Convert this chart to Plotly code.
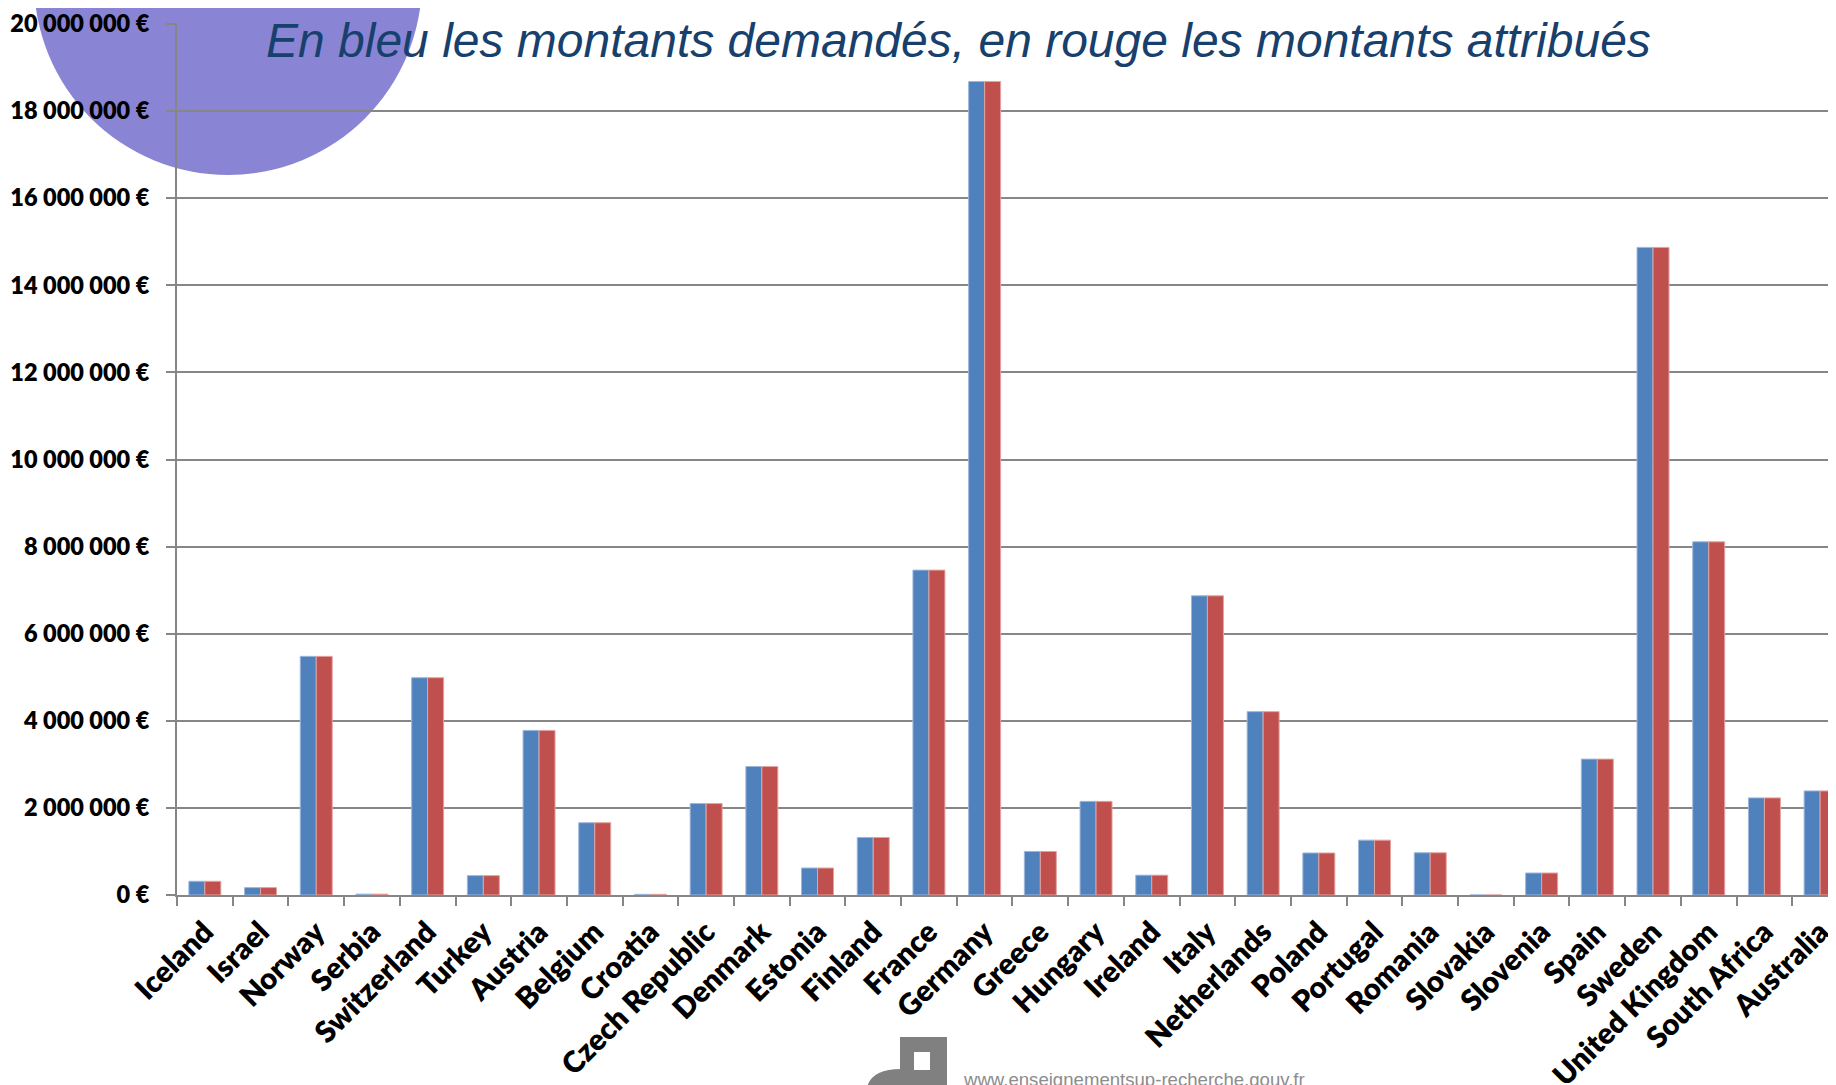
import plotly.graph_objects as go

# ---------------- data ----------------
countries = ["Iceland", "Israel", "Norway", "Serbia", "Switzerland", "Turkey", "Austria",
             "Belgium", "Croatia", "Czech Republic", "Denmark", "Estonia", "Finland", "France",
             "Germany", "Greece", "Hungary", "Ireland", "Italy", "Netherlands", "Poland",
             "Portugal", "Romania", "Slovakia", "Slovenia", "Spain", "Sweden", "United Kingdom",
             "South Africa", "Australia"]

requested = [315000, 170000, 5480000, 20000, 4990000, 445000, 3780000,
             1660000, 15000, 2100000, 2950000, 620000, 1320000, 7460000,
             18680000, 1000000, 2150000, 455000, 6870000, 4210000, 965000,
             1260000, 970000, 0, 505000, 3120000, 14870000, 8110000,
             2230000, 2390000]

awarded = [315000, 170000, 5480000, 20000, 4990000, 445000, 3780000,
           1660000, 15000, 2100000, 2950000, 620000, 1320000, 7460000,
           18680000, 1000000, 2150000, 455000, 6870000, 4210000, 965000,
           1260000, 970000, 0, 505000, 3120000, 14870000, 8110000,
           2230000, 2390000]

y_tickvals = [0, 2000000, 4000000, 6000000, 8000000, 10000000,
              12000000, 14000000, 16000000, 18000000, 20000000]
y_ticktext = ["0 €", "2 000 000 €", "4 000 000 €", "6 000 000 €", "8 000 000 €",
              "10 000 000 €", "12 000 000 €", "14 000 000 €", "16 000 000 €",
              "18 000 000 €", "20 000 000 €"]

title_text = "En bleu les montants demandés, en rouge les montants attribués"
footer_text = "www.enseignementsup-recherche.gouv.fr"

# ---------------- layout geometry (page pixels) ----------------
OFF = 8                      # default page body margin
PAGE_W, PAGE_H = 1836, 1085
PLOT_L, PLOT_R, PLOT_T, PLOT_B = 177, 1836, 24, 895   # plot area in page pixels

W, H = PAGE_W - OFF, PAGE_H - OFF
ML = PLOT_L - OFF
MT = PLOT_T - OFF
MR = (OFF + W) - PLOT_R
MB = (OFF + H) - PLOT_B
PW = PLOT_R - PLOT_L
PH = PLOT_B - PLOT_T


def px(x):
    return (x - PLOT_L) / PW


def py(y):
    return (PLOT_B - y) / PH


GRID = "#868686"
FONT_LBL = "Lato"

fig = go.Figure()
fig.add_bar(x=countries, y=requested, name="Montants demandés",
            marker=dict(color="#4F81BD", line=dict(color="#9DB7DA", width=1)))
fig.add_bar(x=countries, y=awarded, name="Montants attribués",
            marker=dict(color="#C0504D", line=dict(color="#E2A3A1", width=1)))

fig.update_layout(
    width=W, height=H, autosize=False,
    margin=dict(l=ML, r=MR, t=MT, b=MB, pad=0),
    paper_bgcolor="white", plot_bgcolor="rgba(0,0,0,0)",
    barmode="group", bargap=0.426, bargroupgap=0,
    showlegend=False,
)

fig.update_xaxes(
    type="category", range=[-0.5, 29.285],
    tickangle=-45, tickson="boundaries",
    ticks="outside", ticklen=9, tickwidth=2, tickcolor=GRID,
    showline=True, linecolor=GRID, linewidth=2,
    showgrid=False, automargin=False, ticklabelstandoff=6,
    tickfont=dict(family=FONT_LBL, size=29.5, color="black", weight=800),
)
fig.update_yaxes(
    range=[0, 20000000],
    tickmode="array", tickvals=y_tickvals, ticktext=y_ticktext,
    ticks="outside", ticklen=9, tickwidth=2, tickcolor=GRID,
    showline=True, linecolor=GRID, linewidth=2,
    showgrid=True, gridcolor=GRID, gridwidth=2,
    zeroline=False, automargin=False, ticklabelstandoff=12,
    tickfont=dict(family=FONT_LBL, size=23.5, color="black", weight=800),
)

# decorative circle (top-left)
fig.add_shape(type="circle", xref="paper", yref="paper", layer="below",
              x0=px(34), x1=px(422), y0=py(175), y1=py(-213),
              fillcolor="#8985D4", line=dict(width=0))

# logo at the bottom
fig.add_shape(type="rect", xref="paper", yref="paper", layer="above",
              x0=px(900), x1=px(947), y0=py(1095), y1=py(1037),
              fillcolor="#808080", line=dict(width=0))
fig.add_shape(type="rect", xref="paper", yref="paper", layer="above",
              x0=px(914), x1=px(930), y0=py(1070), y1=py(1052),
              fillcolor="white", line=dict(width=0))
fig.add_shape(type="path", xref="paper", yref="paper", layer="above",
              path=(f"M {px(866)},{py(1095)} Q {px(866)},{py(1069)} {px(901)},{py(1069)} "
                    f"L {px(901)},{py(1095)} Z"),
              fillcolor="#808080", line=dict(width=0))

# title
fig.add_annotation(text=title_text, xref="paper", yref="paper",
                   x=px(958), y=py(41), xanchor="center", yanchor="middle",
                   showarrow=False,
                   font=dict(family="Liberation Sans, Arial", size=48, color="#17406D", style="italic"))

# footer url
fig.add_annotation(text=footer_text, xref="paper", yref="paper",
                   x=px(961), y=py(1079), xanchor="left", yanchor="middle",
                   showarrow=False,
                   font=dict(family="Liberation Sans, Arial", size=18.6, color="#8C8C8C"))

fig.write_html("out.html")
